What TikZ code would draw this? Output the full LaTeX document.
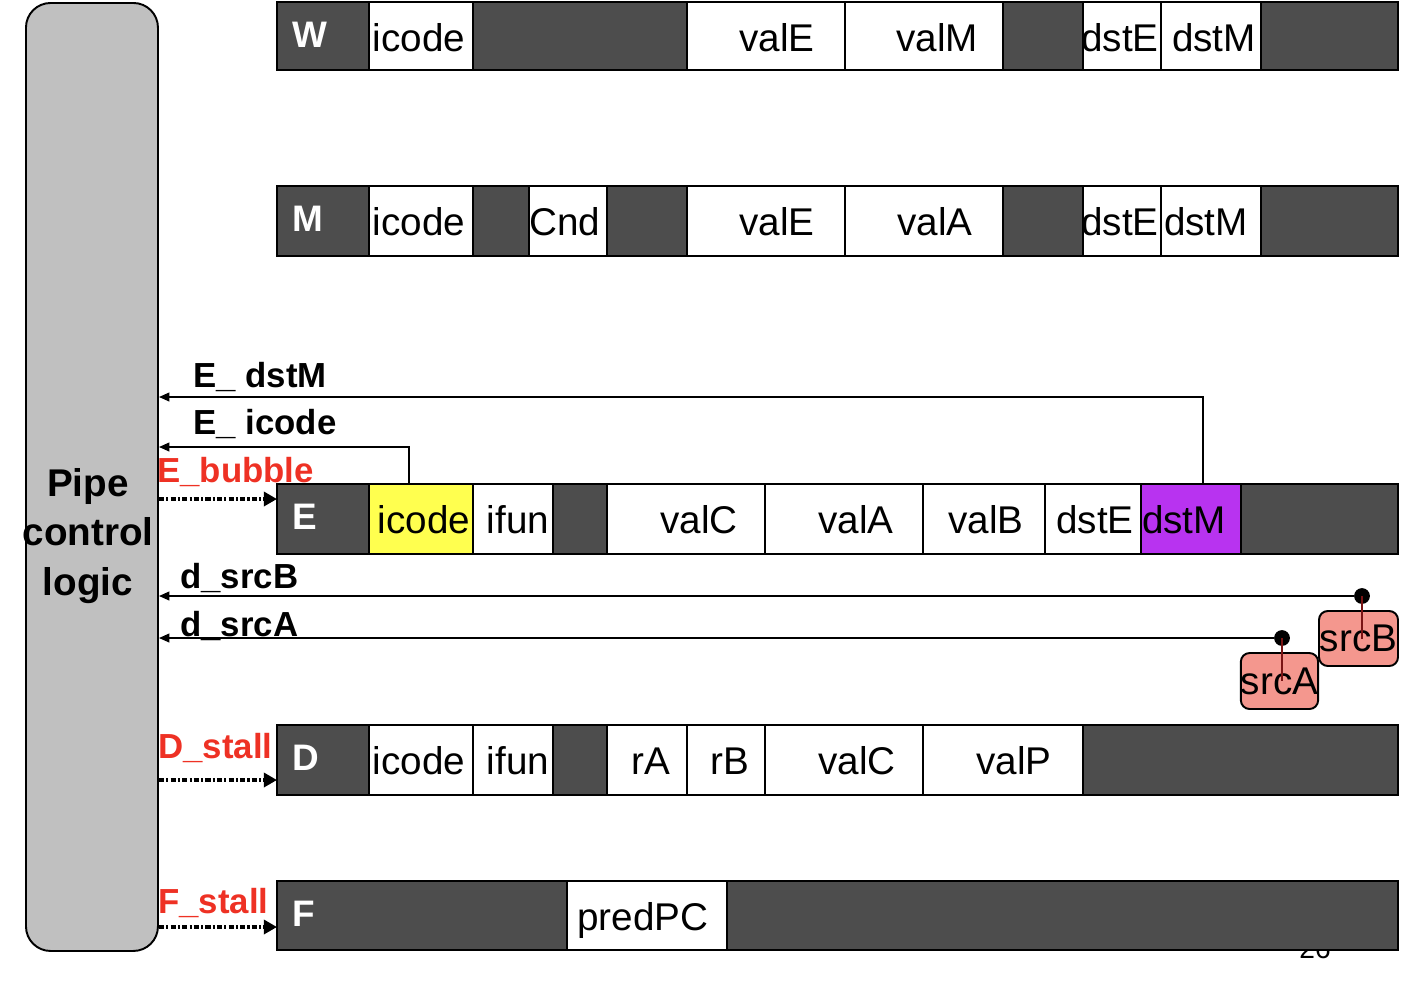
\documentclass[tikz,border=0pt]{standalone}
\usepackage{fontspec}
\setmainfont{Liberation Sans}
\usetikzlibrary{arrows.meta,calc}
\definecolor{darkc}{HTML}{4D4D4D}
\definecolor{pclgray}{HTML}{C0C0C0}
\definecolor{hiyel}{HTML}{FFFF4F}
\definecolor{hipur}{HTML}{B833F0}
\definecolor{salmon}{HTML}{F4978E}
\definecolor{sigred}{HTML}{EE3124}
\definecolor{wirered}{HTML}{7A1414}
\newcommand\pipereg[4]{%
  \node[regbox, minimum height={(#3-#2)*0.02cm}] (#1) at (277,#2) {};
  \node[reglab] (#1lab) at (292,#2+33) {#4};}
\newcommand\pcell[8]{%
  \node[cellbox, fill=#6, minimum width={(#3-#2)*0.02cm}, minimum height={(#5-#4)*0.02cm}] (#1) at (#2,#4) {};
  \node[celltext] (#1t) at (#8,#4+49) {#7};}
\begin{document}
\begin{tikzpicture}[x=0.02cm,y=-0.02cm,
  regbox/.style={draw, line width=1.1pt, fill=darkc, anchor=north west, inner sep=0, outer sep=0, minimum width={1121*0.02cm}},
  cellbox/.style={draw, line width=1.1pt, anchor=north west, inner sep=0, outer sep=0},
  celltext/.style={font=\fontsize{22}{26}\selectfont, inner sep=0, anchor=base},
  reglab/.style={font=\bfseries\fontsize{21}{25}\selectfont, text=white, anchor=west, inner sep=0},
  siglab/.style={font=\bfseries\fontsize{19.8}{24}\selectfont, anchor=base west, inner sep=0},
  fb/.style={line width=1.1pt, -{Triangle[length=6pt,width=5pt]}},
  ctl/.style={line width=1.9pt, dash pattern=on 3pt off 1.2pt on 1.2pt off 1.2pt, -{Triangle[length=7.5pt,width=8pt]}},
  dotn/.style={circle, fill=black, inner sep=0, minimum size=9pt},
  srcbox/.style={draw, line width=1.1pt, fill=salmon, rounded corners=5pt, inner sep=0, font=\fontsize{22}{26}\selectfont},
  redwire/.style={line width=1.1pt, draw=wirered}
]
\useasboundingbox (0,0) rectangle (1424,992);

% pipe control logic
\node[draw, line width=1.1pt, fill=pclgray, rounded corners=14pt, anchor=north west, inner sep=0,
      minimum width={132*0.02cm}, minimum height={948*0.02cm}] (pcl) at (25,2) {};
\node[font=\bfseries\fontsize{22}{28.3}\selectfont, align=center, inner sep=0] (pcltext) at (88,536) {Pipe\\control\\logic};

% page number (mostly hidden)
\node[font=\fontsize{16}{18}\selectfont, anchor=base] (pgno) at (1315,958) {26};

% W register
\pipereg{W}{2}{70}{W}
\pcell{Wic}{369}{473}{2}{70}{white}{icode}{419}
\pcell{WvE}{687}{845}{2}{70}{white}{valE}{777}
\pcell{WvM}{845}{1003}{2}{70}{white}{valM}{937}
\pcell{WdE}{1083}{1161}{2}{70}{white}{dstE}{1120}
\pcell{WdM}{1161}{1261}{2}{70}{white}{dstM}{1214}

% M register
\pipereg{M}{186}{256}{M}
\pcell{Mic}{369}{473}{186}{256}{white}{icode}{419}
\pcell{Mcnd}{529}{607}{186}{256}{white}{Cnd}{565}
\pcell{MvE}{687}{845}{186}{256}{white}{valE}{777}
\pcell{MvA}{845}{1003}{186}{256}{white}{valA}{935}
\pcell{MdE}{1083}{1161}{186}{256}{white}{dstE}{1120}
\pcell{MdM}{1161}{1261}{186}{256}{white}{dstM}{1206}

% E register
\pipereg{E}{484}{554}{E}
\pcell{Eic}{369}{473}{484}{554}{hiyel}{icode}{424}
\pcell{Eif}{473}{553}{484}{554}{white}{ifun}{518}
\pcell{EvC}{607}{765}{484}{554}{white}{valC}{699}
\pcell{EvA}{765}{923}{484}{554}{white}{valA}{856}
\pcell{EvB}{923}{1045}{484}{554}{white}{valB}{986}
\pcell{EdE}{1045}{1141}{484}{554}{white}{dstE}{1095}
\pcell{EdM}{1141}{1241}{484}{554}{hipur}{dstM}{1184}

% D register
\pipereg{D}{725}{795}{D}
\pcell{Dic}{369}{473}{725}{795}{white}{icode}{419}
\pcell{Dif}{473}{553}{725}{795}{white}{ifun}{518}
\pcell{DrA}{607}{687}{725}{795}{white}{rA}{651}
\pcell{DrB}{687}{765}{725}{795}{white}{rB}{730}
\pcell{DvC}{765}{923}{725}{795}{white}{valC}{857}
\pcell{DvP}{923}{1083}{725}{795}{white}{valP}{1014}

% F register
\pipereg{F}{881}{950}{F}
\pcell{Fpc}{567}{727}{881}{950}{white}{predPC}{643}

% feedback signals from E
\coordinate (eM1) at (1203,397);
\coordinate (eI1) at (409,447);
\draw[fb] (EdM.north -| eM1) -- (eM1) -- (eM1 -| pcl.east);
\draw[fb] (E.north -| eI1) -- (eI1) -- (eI1 -| pcl.east);
\node[siglab] (lEdstM) at (193,387) {E\_ dstM};
\node[siglab] (lEicode) at (193,434) {E\_ icode};

% control signals
\coordinate (cbub) at (200,499);
\coordinate (cdst) at (200,780);
\coordinate (cfst) at (200,927);
\draw[ctl] (cbub -| pcl.east) -- (cbub -| E.west);
\draw[ctl] (cdst -| pcl.east) -- (cdst -| D.west);
\draw[ctl] (cfst -| pcl.east) -- (cfst -| F.west);
\node[siglab, text=sigred] (lEbub) at (157,482) {E\_bubble};
\node[siglab, text=sigred] (lDst) at (158,758) {D\_stall};
\node[siglab, text=sigred] (lFst) at (158,913) {F\_stall};

% source registers from decode
\node[srcbox, minimum width={79*0.02cm}, minimum height={55*0.02cm}] (srcB) at (1358.5,638.5) {srcB};
\node[srcbox, minimum width={77*0.02cm}, minimum height={56*0.02cm}] (srcA) at (1279.5,681) {srcA};
\node[dotn] (dotB) at (1362,596) {};
\node[dotn] (dotA) at (1282,638) {};
\draw[redwire] (dotB.center) -- (dotB |- srcB.center);
\draw[redwire] (dotA.center) -- (dotA |- srcA.center);
\draw[fb] (dotB) -- (dotB -| pcl.east);
\draw[fb] (dotA) -- (dotA -| pcl.east);
\node[siglab] (ldB) at (180,588) {d\_srcB};
\node[siglab] (ldA) at (180,636) {d\_srcA};
\end{tikzpicture}
\end{document}
